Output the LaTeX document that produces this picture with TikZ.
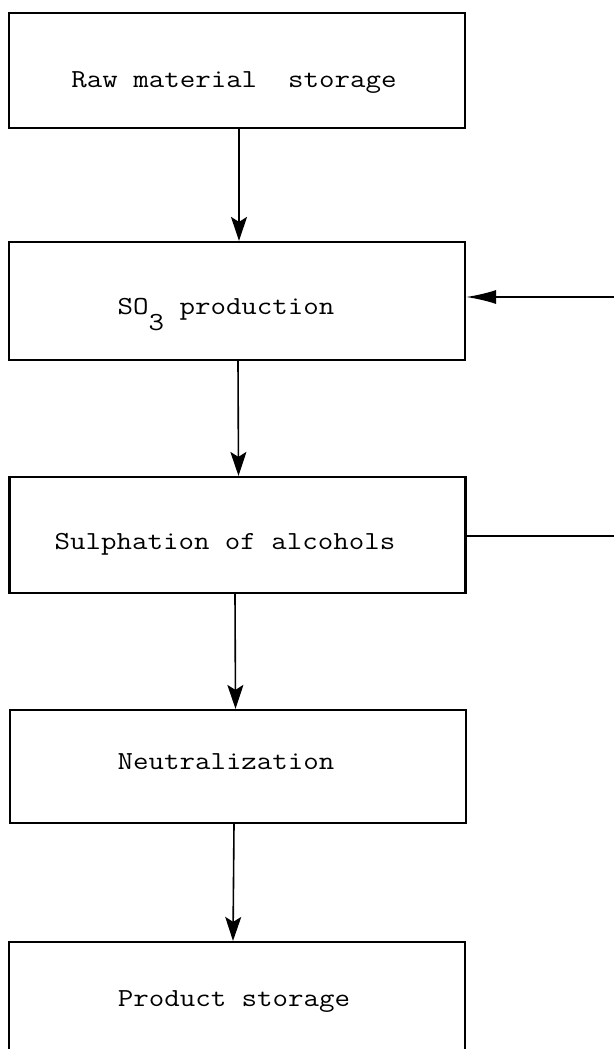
\documentclass[tikz,border=0pt]{standalone}
\usetikzlibrary{arrows.meta}
\newcommand{\tw}[1]{\scalebox{1.157}[1]{#1}}
\begin{document}
\begin{tikzpicture}[x=1pt,y=-1pt,
  stage/.style={draw, line width=2.2pt, rectangle, minimum width=456pt, inner sep=0pt},
  caption/.style={anchor=base, inner sep=0pt, font=\fontsize{26}{30}\selectfont\ttfamily},
  flow/.style={line width=1.6pt, -{Stealth[length=24pt,width=16pt,inset=5pt]}},
  feed/.style={line width=1.8pt, -{Latex[length=30pt,width=14pt]}},
  side/.style={line width=1.8pt}]
\useasboundingbox (0,0) rectangle (614,1049);

% process stages
\node[stage, minimum height=115pt] (b1) at (237,70.5) {};
\node[stage, minimum height=118pt] (b2) at (237,301) {};
\node[stage, minimum height=116pt] (b3) at (237.5,535) {};
\node[stage, minimum height=113pt] (b4) at (238,766.5) {};
\node[stage, minimum height=108pt] (b5) at (237,996) {};

% stage names
\node[caption] (t1) at (234,87) {\tw{Raw material\ \ storage}};
\node[caption] (t2) at (226,314) {\tw{SO\raisebox{-16pt}{3} production}};
\node[caption] (t3) at (225,549) {\tw{Sulphation of alcohols}};
\node[caption] (t4) at (226,769) {\tw{Neutralization}};
\node[caption] (t5) at (234,1006) {\tw{Product storage}};

% main flow
\draw[flow] ([xshift=2pt]b1.south) -- ([xshift=2pt]b2.north);
\draw[flow] ([xshift=1pt]b2.south) -- ([xshift=1pt]b3.north);
\draw[flow] ([xshift=-2.5pt]b3.south) -- ([xshift=-2.5pt]b4.north);
\draw[flow] ([xshift=-4pt]b4.south) -- ([xshift=-4pt]b5.north);

% side streams
\coordinate (in2) at (614,297);
\coordinate (out3) at (614,536);
\draw[feed] (in2) -- (in2 -| b2.east);
\draw[side] (out3 -| b3.east) -- (out3);
\end{tikzpicture}
\end{document}
